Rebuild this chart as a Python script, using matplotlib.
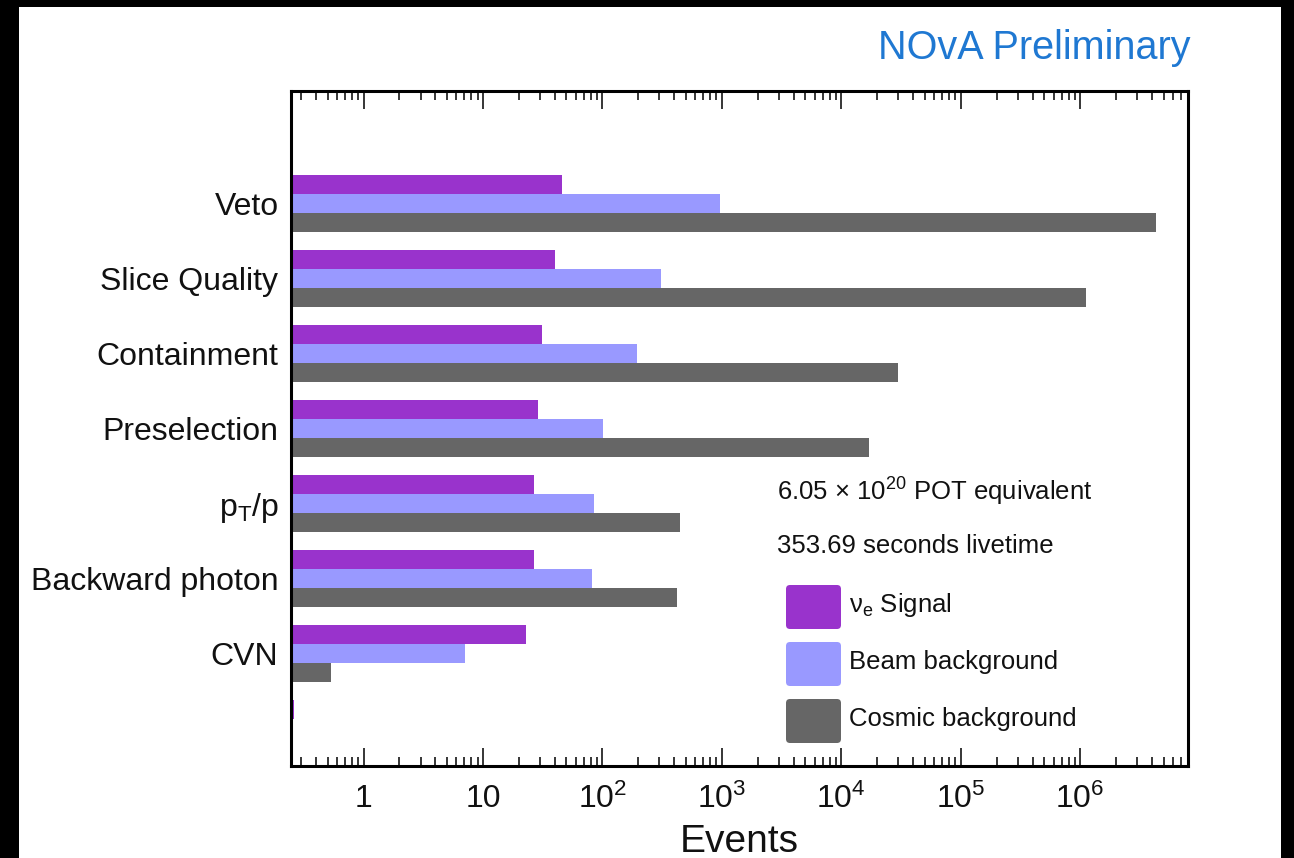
import matplotlib
matplotlib.use("Agg")
import matplotlib.pyplot as plt
from matplotlib.patches import FancyBboxPatch, Rectangle
from matplotlib.ticker import FixedLocator, FixedFormatter, LogLocator, NullFormatter
import numpy as np

plt.rcParams["font.family"] = ["Liberation Sans", "DejaVu Sans"]
plt.rcParams["mathtext.fontset"] = "custom"
plt.rcParams["mathtext.rm"] = "Liberation Sans"
plt.rcParams["mathtext.it"] = "Liberation Sans"
plt.rcParams["mathtext.bf"] = "Liberation Sans:bold"
plt.rcParams["mathtext.default"] = "regular"

# categories from bottom to top (empty slots at both ends)
categories = ["", "CVN", "Backward photon", "p$_T$/p", "Preselection",
              "Containment", "Slice Quality", "Veto", ""]
signal = [0.26, 23.1, 26.9, 26.9, 28.8, 31.4, 40.2, 45.7, 0]
beam_bkg = [0.258, 7.13, 82.4, 84.5, 102, 195, 312, 973, 0]
cosmic_bkg = [0, 0.534, 425, 450, 17100, 30100, 1.13e6, 4.28e6, 0]

series_names = ["ν$_e$ Signal", "Beam background", "Cosmic background"]
series_colors = ["#9933cc", "#9999ff", "#666666"]

tick_values = [1, 10, 1e2, 1e3, 1e4, 1e5, 1e6]
tick_labels = ["1", "10", "$10^{2}$", "$10^{3}$", "$10^{4}$", "$10^{5}$", "$10^{6}$"]

W, H = 1294, 858


def fx(px):
    return px / W


def fy(py):
    return 1 - py / H


fig = plt.figure(figsize=(W / 100, H / 100), dpi=100)
fig.patch.set_facecolor("black")
fig.add_artist(Rectangle((fx(19), 0), fx(1281) - fx(19), fy(7), transform=fig.transFigure,
                         facecolor="white", edgecolor="none", zorder=-10))

ax = fig.add_axes([fx(291), fy(766), fx(1188) - fx(291), fy(91) - fy(766)])
y = np.arange(len(categories))
bar_h = 0.25
for offset, vals, color in zip([0.25, 0.0, -0.25], [signal, beam_bkg, cosmic_bkg], series_colors):
    ax.barh(y + offset, vals, height=bar_h, color=color, edgecolor="none")

ax.set_xscale("log")
ax.set_xlim(0.247, 8.0e6)
ax.set_ylim(-0.5, len(categories) - 0.5)

ax.xaxis.set_major_locator(FixedLocator(tick_values))
ax.xaxis.set_major_formatter(FixedFormatter(tick_labels))
ax.xaxis.set_minor_locator(LogLocator(base=10, subs=np.arange(2, 10), numticks=20))
ax.xaxis.set_minor_formatter(NullFormatter())
ax.tick_params(axis="x", which="major", direction="in", top=True, length=13, width=1.1,
               labelsize=23, pad=13, labelcolor="#111111")
ax.tick_params(axis="x", which="minor", direction="in", top=True, length=6.5, width=1.1)

ax.set_yticks(y)
ax.set_yticklabels(categories)
ax.tick_params(axis="y", length=0, labelsize=23, pad=9, labelcolor="#111111")

for spine in ax.spines.values():
    spine.set_linewidth(2.2)

ax.set_xlabel("Events", fontsize=28, labelpad=6, color="#111111")

fig.text(fx(1191), fy(48), "NOvA Preliminary", color="#1f78d2", fontsize=28.5,
         ha="right", va="center")
fig.text(fx(777), fy(492), "6.05 × 10$^{20}$ POT equivalent", fontsize=18.5,
         ha="left", va="center", color="#111111")
fig.text(fx(777), fy(546), "353.69 seconds livetime", fontsize=18.5,
         ha="left", va="center", color="#111111")

box_tops = [585, 642, 699]
for top, name, color in zip(box_tops, series_names, series_colors):
    fig.add_artist(FancyBboxPatch((786 / 100, (H - top - 44) / 100), 0.55, 0.44,
                                  boxstyle="round,pad=0,rounding_size=0.04",
                                  transform=fig.dpi_scale_trans,
                                  facecolor=color, edgecolor="none"))
    fig.text(fx(849), fy(top + 20), name, fontsize=18.5, ha="left", va="center",
             color="#111111")

fig.savefig("out.png", dpi=100, facecolor=fig.get_facecolor())
